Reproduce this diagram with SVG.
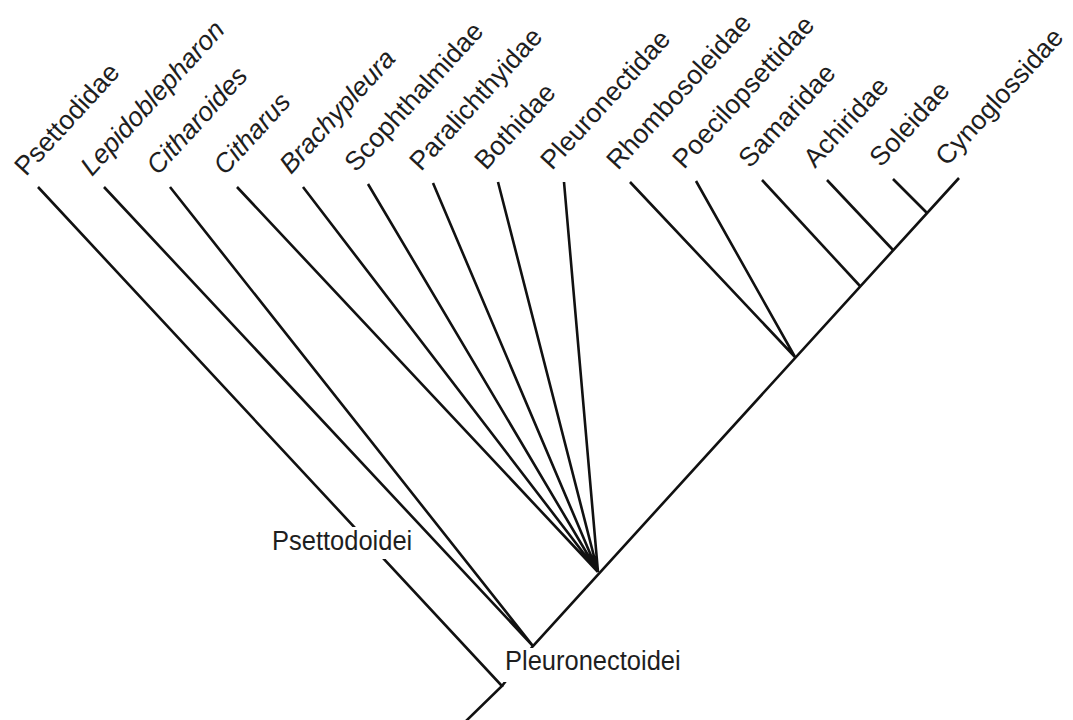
<svg xmlns="http://www.w3.org/2000/svg" width="1073" height="720" viewBox="0 0 1073 720">
<style>
.br{stroke:#111;stroke-width:2.6;fill:none;stroke-linecap:butt;stroke-linejoin:miter}
.lb{font-family:"Liberation Sans",Arial,sans-serif;font-size:25.5px;fill:#1e1e1e}
.rl{font-size:26.6px}
.it{font-style:italic}
.bg{fill:#fff}
</style>
<rect width="1073" height="720" fill="#fff"/>
<g id="connectors">
<path class="br" d="M465,722 L502,686 L38,187"/>
<path class="br" d="M502,686 L533,646 L959,178"/>
<path class="br" d="M104,187 L533,646 L170,187"/>
<path class="br" d="M237,187 L598,572 M303,187 L598,572 M368,184 L598,572 M433,183 L598,572 M498,182 L598,572 M564,182 L598,572"/>
<path class="br" d="M630,182 L795,357 L696,181"/>
<path class="br" d="M762,180 L860,286"/>
<path class="br" d="M827,180 L893,250"/>
<path class="br" d="M893,179 L927,213"/>
</g>
<g id="psettodoidei"><rect class="bg" x="270" y="527" width="146" height="32"/><text class="lb" transform="translate(272,550) scale(1,1.09)">Psettodoidei</text></g>
<g id="pleuronectoidei"><rect class="bg" x="501" y="648" width="190" height="34"/><text class="lb" transform="translate(505,670) scale(1,1.09)">Pleuronectoidei</text></g>
<g id="t-psettodidae"><text class="lb rl" transform="translate(26,177) rotate(-47.5)">Psettodidae</text></g>
<g id="t-lepidoblepharon"><text class="lb rl it" transform="translate(92,177) rotate(-47.5)">Lepidoblepharon</text></g>
<g id="t-citharoides"><text class="lb rl it" transform="translate(158,176) rotate(-47.5)">Citharoides</text></g>
<g id="t-citharus"><text class="lb rl it" transform="translate(225,176) rotate(-47.5)">Citharus</text></g>
<g id="t-brachypleura"><text class="lb rl it" transform="translate(291,175) rotate(-47.5)">Brachypleura</text></g>
<g id="t-scophthalmidae"><text class="lb rl" transform="translate(356,173) rotate(-47.5)">Scophthalmidae</text></g>
<g id="t-paralichthyidae"><text class="lb rl" transform="translate(421,172) rotate(-47.5)">Paralichthyidae</text></g>
<g id="t-bothidae"><text class="lb rl" transform="translate(486,171) rotate(-47.5)">Bothidae</text></g>
<g id="t-pleuronectidae"><text class="lb rl" transform="translate(552,171) rotate(-47.5)">Pleuronectidae</text></g>
<g id="t-rhombosoleidae"><text class="lb rl" transform="translate(618,171) rotate(-47.5)">Rhombosoleidae</text></g>
<g id="t-poecilopsettidae"><text class="lb rl" transform="translate(684,170) rotate(-47.5)">Poecilopsettidae</text></g>
<g id="t-samaridae"><text class="lb rl" transform="translate(750,169) rotate(-47.5)">Samaridae</text></g>
<g id="t-achiridae"><text class="lb rl" transform="translate(815,169) rotate(-47.5)">Achiridae</text></g>
<g id="t-soleidae"><text class="lb rl" transform="translate(881,168) rotate(-47.5)">Soleidae</text></g>
<g id="t-cynoglossidae"><text class="lb rl" transform="translate(947,167) rotate(-47.5)">Cynoglossidae</text></g>
</svg>
